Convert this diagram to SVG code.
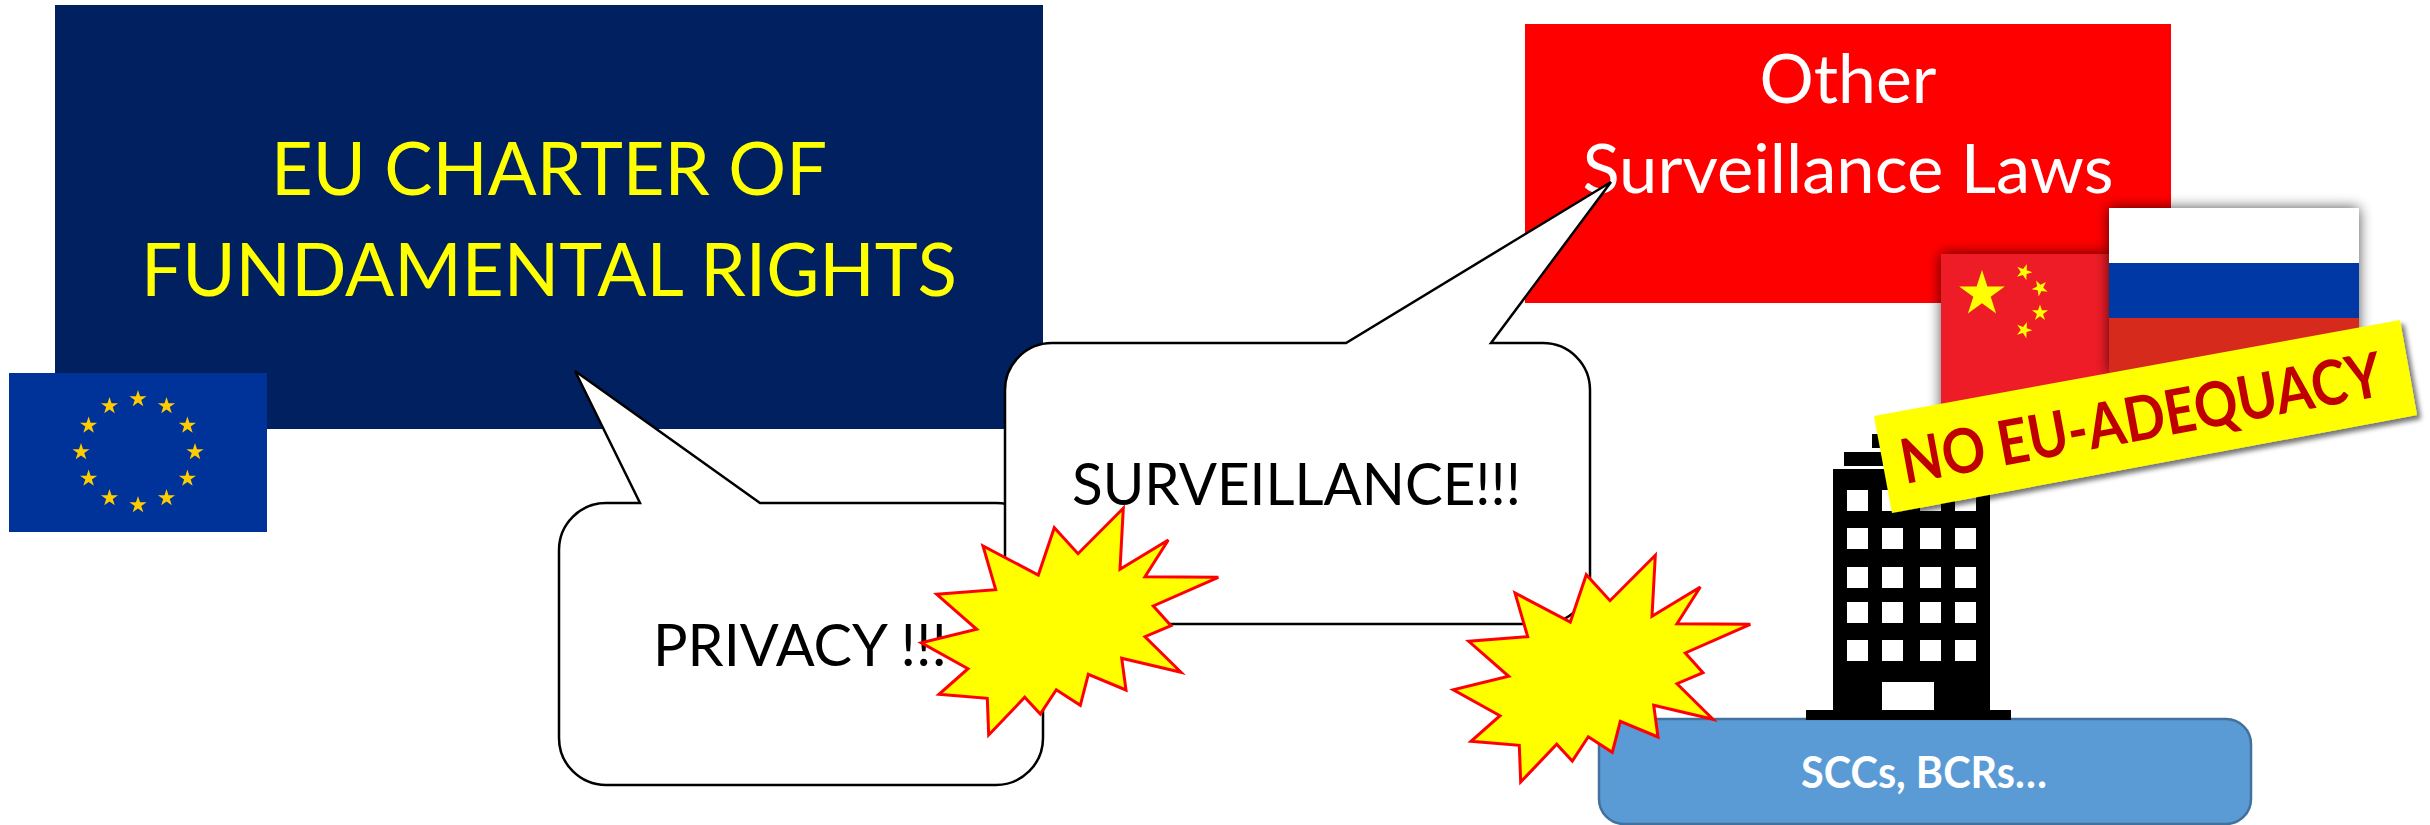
<svg xmlns="http://www.w3.org/2000/svg" xmlns:xlink="http://www.w3.org/1999/xlink" width="2430" height="825" viewBox="0 0 2430 825">
<style>
text{font-family:"Lato","Liberation Sans",sans-serif}
.mid{text-anchor:middle}
.callout{fill:#fff;stroke:#000;stroke-width:2.5;stroke-linejoin:miter}
.burst{fill:#ff0;stroke:#f00;stroke-width:3;stroke-linejoin:miter}
.win{fill:#fff}
.eu{fill:#fc0}
.cn{fill:#ff0}
</style>
<defs>
<polygon id="star" points="0,-1 .2245,-.309 .951,-.309 .363,.118 .588,.809 0,.382 -.588,.809 -.363,.118 -.951,-.309 -.2245,-.309"/>
<polygon id="burstShape" points="1123.3,508.3 1120,569.3 1168.3,540 1145,576.7 1218.3,577.3 1153.3,606 1171,625.7 1145,636.7 1181,672.3 1121.7,658.3 1126,690 1088.3,674.3 1080.3,705.3 1056.3,689.7 1040.3,714 1024.7,697.3 988.7,735 987.3,698.3 939,694.3 968,668.7 921.3,642.7 976.7,629.3 936.7,594.3 995.7,589.7 983,546 1038.3,575 1054.3,527.7 1078,553.7"/>
<filter id="glow" x="-25%" y="-25%" width="150%" height="150%"><feGaussianBlur in="SourceAlpha" stdDeviation="7"/><feComponentTransfer><feFuncA type="linear" slope="0.7"/></feComponentTransfer><feMerge><feMergeNode/><feMergeNode in="SourceGraphic"/></feMerge></filter>
<filter id="drop" x="-5%" y="-10%" width="110%" height="125%"><feGaussianBlur in="SourceAlpha" stdDeviation="2.5"/><feOffset dx="4" dy="4"/><feComponentTransfer><feFuncA type="linear" slope="0.55"/></feComponentTransfer><feMerge><feMergeNode/><feMergeNode in="SourceGraphic"/></feMerge></filter>
</defs>
<g id="charter">
<rect x="55" y="5" width="988" height="424" fill="#002060"/>
<text class="mid" x="549" y="195" font-size="74" fill="#ff0" textLength="556" lengthAdjust="spacingAndGlyphs">EU CHARTER OF</text>
<text class="mid" x="549" y="296" font-size="74" fill="#ff0" textLength="816" lengthAdjust="spacingAndGlyphs">FUNDAMENTAL RIGHTS</text>
</g>
<g id="eu-flag">
<rect x="9" y="373" width="258" height="159" fill="#039"/>
<g class="eu">
<use href="#star" transform="translate(138,399) scale(9)"/>
<use href="#star" transform="translate(166.5,406) scale(9)"/>
<use href="#star" transform="translate(187.4,425.5) scale(9)"/>
<use href="#star" transform="translate(195,452) scale(9)"/>
<use href="#star" transform="translate(187.4,478.5) scale(9)"/>
<use href="#star" transform="translate(166.5,498) scale(9)"/>
<use href="#star" transform="translate(138,505) scale(9)"/>
<use href="#star" transform="translate(109.5,498) scale(9)"/>
<use href="#star" transform="translate(88.6,478.5) scale(9)"/>
<use href="#star" transform="translate(81,452) scale(9)"/>
<use href="#star" transform="translate(88.6,425.5) scale(9)"/>
<use href="#star" transform="translate(109.5,406) scale(9)"/>
</g>
</g>
<g id="other-laws">
<rect x="1525" y="24" width="646" height="279" fill="#f00"/>
<text class="mid" x="1848" y="103" font-size="68" fill="#fff" textLength="177" lengthAdjust="spacingAndGlyphs">Other</text>
<text class="mid" x="1848" y="193" font-size="68" fill="#fff" textLength="531" lengthAdjust="spacingAndGlyphs">Surveillance Laws</text>
</g>
<g id="china-flag" filter="url(#glow)">
<rect x="1941" y="254" width="168" height="176" fill="#ee1c25"/>
<g class="cn">
<use href="#star" transform="translate(1982,294) scale(24)"/>
<use href="#star" transform="translate(2024,272) rotate(20) scale(8.5)"/>
<use href="#star" transform="translate(2040,288) rotate(45) scale(8.5)"/>
<use href="#star" transform="translate(2040,313) rotate(0) scale(8.5)"/>
<use href="#star" transform="translate(2024,330) rotate(20) scale(8.5)"/>
</g>
</g>
<g id="russia-flag" filter="url(#glow)">
<rect x="2109" y="208" width="250" height="55" fill="#fff"/>
<rect x="2109" y="263" width="250" height="55" fill="#0039a6"/>
<rect x="2109" y="318" width="250" height="55" fill="#d52b1e"/>
</g>
<g id="scc-box">
<rect x="1599" y="719" width="652" height="105" rx="25" fill="#5b9bd5" stroke="#41719c" stroke-width="2.5"/>
<text class="mid" x="1924" y="788" font-size="44" font-weight="700" fill="#fff" textLength="246" lengthAdjust="spacingAndGlyphs">SCCs, BCRs…</text>
</g>
<g id="building">
<path fill-rule="evenodd" d="M1872 434H1951V448H1872ZM1844 452H1979V466H1844ZM1833 469H1990V710H2011V720H1806V710H1833Z"/>
<g class="win">
<rect x="1847" y="490" width="21" height="21"/><rect x="1882" y="490" width="21" height="21"/><rect x="1920" y="490" width="21" height="21"/><rect x="1955" y="490" width="21" height="21"/>
<rect x="1847" y="528" width="21" height="21"/><rect x="1882" y="528" width="21" height="21"/><rect x="1920" y="528" width="21" height="21"/><rect x="1955" y="528" width="21" height="21"/>
<rect x="1847" y="567" width="21" height="21"/><rect x="1882" y="567" width="21" height="21"/><rect x="1920" y="567" width="21" height="21"/><rect x="1955" y="567" width="21" height="21"/>
<rect x="1847" y="602" width="21" height="21"/><rect x="1882" y="602" width="21" height="21"/><rect x="1920" y="602" width="21" height="21"/><rect x="1955" y="602" width="21" height="21"/>
<rect x="1847" y="640" width="21" height="21"/><rect x="1882" y="640" width="21" height="21"/><rect x="1920" y="640" width="21" height="21"/><rect x="1955" y="640" width="21" height="21"/>
<rect x="1882" y="682" width="52" height="28"/>
</g>
</g>
<g id="privacy-callout">
<path class="callout" d="M606 503H640L575 371L760 503H996A47 47 0 0 1 1043 550V738A47 47 0 0 1 996 785H606A47 47 0 0 1 559 738V550A47 47 0 0 1 606 503Z"/>
<text x="653" y="666" font-size="58" fill="#000" textLength="294" lengthAdjust="spacingAndGlyphs">PRIVACY !!!</text>
</g>
<g id="surveillance-callout">
<path class="callout" d="M1052 343H1346L1611 182L1491 343H1543A47 47 0 0 1 1590 390V577A47 47 0 0 1 1543 624H1052A47 47 0 0 1 1005 577V390A47 47 0 0 1 1052 343Z"/>
<text x="1072" y="505" font-size="58" fill="#000" textLength="449" lengthAdjust="spacingAndGlyphs">SURVEILLANCE!!!</text>
</g>
<g id="burst-1"><use href="#burstShape" class="burst"/></g>
<g id="burst-2"><use href="#burstShape" class="burst" transform="translate(532,47)"/></g>
<g id="no-adequacy">
<polygon points="1874,416 2400,320 2417,415 1892,513" fill="#ff0" filter="url(#drop)"/>
<text x="1905" y="484" transform="rotate(-10.5 1905 484)" font-size="62" font-weight="700" fill="#c00000" textLength="488" lengthAdjust="spacingAndGlyphs">NO EU-ADEQUACY</text>
</g>
</svg>
